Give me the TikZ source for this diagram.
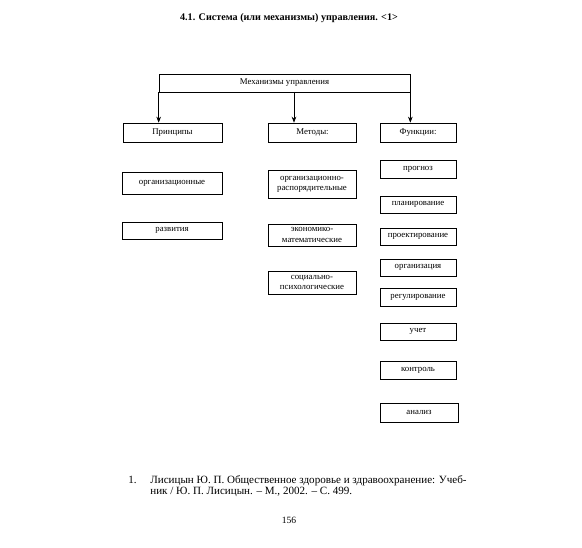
\documentclass[tikz,border=0pt]{standalone}
\usepackage{fontspec}
\setmainfont{Liberation Serif}
\usetikzlibrary{arrows.meta}

\tikzset{every picture/.style={line width=0.5pt}}
\tikzset{
  blk/.style={draw, inner sep=0.75pt, font=\fontsize{6.6}{7.6}\selectfont},
  blktwo/.style={blk, align=center},
  arr/.style={-{Stealth[length=4.5pt,width=3.5pt]}},
}

\begin{document}
\begin{tikzpicture}[x=0.75pt,y=0.75pt,yscale=-1,xscale=1]
    \useasboundingbox (0,0) rectangle (582,548);

    % Title
    \draw (289,18) node [font=\fontsize{7.6}{9}\selectfont\bfseries] (title) {4.1. Система (или механизмы) управления. <1>};

    % Top box
    \node [blk, minimum width=188.25pt, minimum height=13.5pt] (mech) at (284.5,83) {Механизмы управления};
    \coordinate (mechM) at (294,92);

    % Row of headings
    \node [blk, minimum width=74.25pt, minimum height=14.25pt] (princ) at (172.5,132.5) {Принципы};
    \node [blk, minimum width=66pt, minimum height=14.25pt] (meth) at (312.5,132.5) {Методы:};
    \node [blk, minimum width=57pt, minimum height=14.25pt] (func) at (418,132.5) {Функции:};

    % Arrows
    \draw [arr] (mech.south west) -- (mech.south west |- princ.north);
    \draw [arr] (mechM) -- (mechM |- meth.north);
    \draw [arr] (mech.south east) -- (mech.south east |- func.north);

    % Principles
    \node [blk, minimum width=75pt, minimum height=16.5pt] (orgp) at (172,183) {организационные};
    \node [blk, minimum width=75pt, minimum height=12.75pt] (razv) at (172,230.5) {развития};

    % Methods
    \node [blktwo, minimum width=66pt, minimum height=21pt] (orgr) at (312,184) {организационно-\\распорядительные};
    \node [blktwo, minimum width=66pt, minimum height=16.5pt] (econ) at (312,235) {экономико-\\математические};
    \node [blktwo, minimum width=66pt, minimum height=17.25pt] (soc) at (312,282.5) {социально-\\психологические};

    % Functions
    \node [blk, minimum width=57pt, minimum height=13.5pt] (prog) at (418,169) {прогноз};
    \node [blk, minimum width=57pt, minimum height=12.75pt] (plan) at (418,204.5) {планирование};
    \node [blk, minimum width=57pt, minimum height=12.75pt] (proj) at (418,236.5) {проектирование};
    \node [blk, minimum width=57pt, minimum height=12.75pt] (orgz) at (418,267.5) {организация};
    \node [blk, minimum width=57pt, minimum height=13.5pt] (reg) at (418,297) {регулирование};
    \node [blk, minimum width=57pt, minimum height=12.75pt] (uchet) at (418,331.5) {учет};
    \node [blk, minimum width=57pt, minimum height=13.5pt] (kontr) at (418,370) {контроль};
    \node [blk, minimum width=58.5pt, minimum height=14.25pt] (anal) at (419,412.5) {анализ};

    % Footnote
    \draw (127,480) node [anchor=west][inner sep=0.75pt][font=\fontsize{8.3}{9}\selectfont] (fnnum) {1.};
    \draw (149,474) node [anchor=north west][inner sep=0.75pt][align=left][font=\fontsize{8.3}{8.4}\selectfont] (fntext) {Лисицын Ю. П. Общественное здоровье и здравоохранение: Учеб-\\ник / Ю. П. Лисицын. – М., 2002. – С. 499.};

    % Page number
    \draw (289,520) node [font=\fontsize{7.2}{8}\selectfont] (page) {156};

\end{tikzpicture}
\end{document}
